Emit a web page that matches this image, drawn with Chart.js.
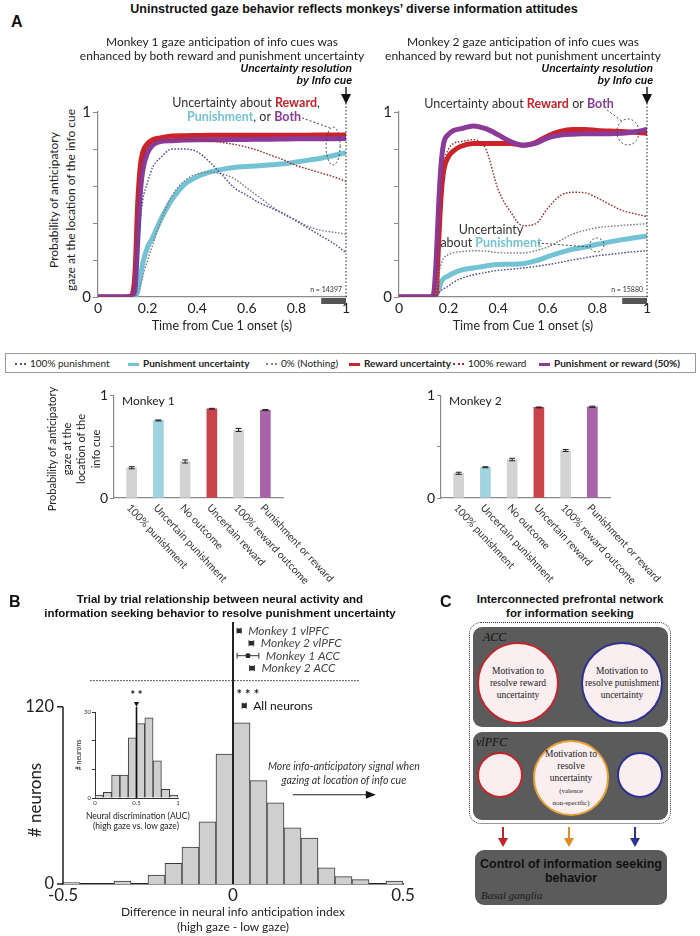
<!DOCTYPE html>
<html>
<head>
<meta charset="utf-8">
<script src="https://cdn.jsdelivr.net/npm/chart.js@4.4.1/dist/chart.umd.min.js"></script>
<style>
  body { margin: 0; background: #fff; }
  #page { position: relative; width: 700px; height: 936px; overflow: hidden; font-family: Lato, "Open Sans", sans-serif; color: #222; }
  .abs { position: absolute; white-space: nowrap; }
  .head { font-family: "Liberation Sans", Arial, sans-serif; font-weight: bold; color: #111; }
  .rot { position: absolute; transform: rotate(-90deg); text-align: center; white-space: nowrap; }
  .leg { position: absolute; top: 0; height: 18px; line-height: 18px; font-size: 10px; white-space: nowrap; }
  .sw { display: inline-block; width: 11px; vertical-align: middle; margin-right: 4px; }
  .pfc { position: absolute; background: #5b5b5b; border-radius: 9px; }
  .circ { position: absolute; border-radius: 50%; background: #fbeef0; border: 2px solid; box-sizing: border-box; display: flex; align-items: center; justify-content: center; text-align: center; white-space: nowrap; font-family: "Liberation Serif", serif; font-size: 9.5px; line-height: 12px; color: #222; }
  .ser { font-family: "Liberation Serif", serif; font-style: italic; }
</style>
</head>
<body>
<div id="page">
  <div class="abs" style="left:80px;top:60px;width:280px;height:260px"><canvas id="gaze1"></canvas></div>
  <div class="abs" style="left:381px;top:60px;width:280px;height:260px"><canvas id="gaze2"></canvas></div>
  <div class="abs" style="left:96px;top:385px;width:260px;height:200px"><canvas id="bars1"></canvas></div>
  <div class="abs" style="left:423px;top:385px;width:260px;height:200px"><canvas id="bars2"></canvas></div>
  <div class="abs" style="left:0px;top:610px;width:440px;height:326px"><canvas id="hist"></canvas></div>
  <div class="abs" style="left:75px;top:688px;width:110px;height:122px"><canvas id="inset"></canvas></div>

  <!-- panel A text -->
  <div class="abs head" style="left:11px;top:13px;font-size:16px">A</div>
  <div class="abs head" style="left:54px;width:600px;top:2px;text-align:center;font-size:12.5px">Uninstructed gaze behavior reflects monkeys’ diverse information attitudes</div>
  <div class="abs" style="left:22px;width:400px;top:35px;text-align:center;font-size:12px;line-height:14px">Monkey 1 gaze anticipation of info cues was<br>enhanced by both reward and punishment uncertainty</div>
  <div class="abs" style="left:323px;width:400px;top:35px;text-align:center;font-size:12px;line-height:14px">Monkey 2 gaze anticipation of info cues was<br>enhanced by reward but not punishment uncertainty</div>
  <div class="rot" style="left:-38px;top:183px;width:200px;height:34px;font-size:12px;line-height:17px">Probability of anticipatory<br>gaze at the location of the info cue</div>
  <div class="abs" style="left:122px;width:200px;top:318px;text-align:center;font-size:12.5px">Time from Cue 1 onset (s)</div>
  <div class="abs" style="left:423px;width:200px;top:318px;text-align:center;font-size:12.5px">Time from Cue 1 onset (s)</div>

  <!-- legend -->
  <div class="abs" style="left:5px;top:353px;width:689px;height:18px;border:1px solid #9a9a9a">
    <div class="leg" style="left:9px"><span class="sw" style="border-top:2px dotted #4a4aa8"></span>100% punishment</div>
    <div class="leg" style="left:122px;font-weight:bold"><span class="sw" style="height:3px;background:#74c3d5"></span>Punishment uncertainty</div>
    <div class="leg" style="left:260px"><span class="sw" style="border-top:2px dotted #888"></span>0% (Nothing)</div>
    <div class="leg" style="left:343px;font-weight:bold"><span class="sw" style="height:3px;background:#cc2229"></span>Reward uncertainty</div>
    <div class="leg" style="left:447px"><span class="sw" style="border-top:2px dotted #a32a2a"></span>100% reward</div>
    <div class="leg" style="left:533px;font-weight:bold"><span class="sw" style="height:3px;background:#8b3a9a"></span>Punishment or reward (50%)</div>
  </div>
  <div class="rot" style="left:5px;top:419px;width:140px;height:60px;font-size:11px;line-height:14.5px">Probability of anticipatory<br>gaze at the<br>location of the<br>info cue</div>

  <!-- panel B text -->
  <div class="abs head" style="left:9px;top:593px;font-size:16px">B</div>
  <div class="abs head" style="left:20px;width:400px;top:592px;text-align:center;font-size:11.5px;line-height:14px">Trial by trial relationship between neural activity and<br>information seeking behavior to resolve punishment uncertainty</div>
  <div class="rot" style="left:-15px;top:790px;width:100px;height:20px;font-size:17px;line-height:20px"># neurons</div>
  <div class="rot" style="left:53px;top:750px;width:50px;height:10px;font-size:7px;line-height:10px"># neurons</div>
  <div class="abs" style="left:86px;width:100px;top:811px;text-align:center;font-size:8.5px;line-height:10px">Neural discrimination (AUC)<br>(high gaze vs. low gaze)</div>
  <div class="abs" style="left:83px;width:300px;top:904px;text-align:center;font-size:12px;line-height:15px">Difference in neural info anticipation index<br>(high gaze - low gaze)</div>

  <!-- panel C -->
  <div class="abs head" style="left:440px;top:593px;font-size:16px">C</div>
  <div class="abs head" style="left:470px;width:200px;top:592px;text-align:center;font-size:11.5px;line-height:14px">Interconnected prefrontal network<br>for information seeking</div>
  <div class="abs" style="left:469px;top:622px;width:202px;height:202px;border:1.3px dotted #333;border-radius:12px;box-sizing:border-box"></div>
  <div class="pfc" style="left:473px;top:627px;width:195px;height:100px"></div>
  <div class="abs ser" style="left:483px;top:630px;font-size:12px;color:#111">ACC</div>
  <div class="circ" style="left:477px;top:642px;width:82px;height:82px;border-color:#c0272d">Motivation to<br>resolve reward<br>uncertainty</div>
  <div class="circ" style="left:581px;top:642px;width:82px;height:82px;border-color:#2e3192">Motivation to<br>resolve punishment<br>uncertainty</div>
  <div class="pfc" style="left:473px;top:732px;width:195px;height:88px"></div>
  <div class="abs ser" style="left:476px;top:735px;font-size:12px;color:#111">vlPFC</div>
  <div class="circ" style="left:477px;top:752px;width:46px;height:46px;border-color:#c0272d"></div>
  <div class="circ" style="left:533px;top:740px;width:76px;height:76px;border-color:#e8a23a"><div>Motivation to<br>resolve<br>uncertainty<br><span style="font-size:7px;line-height:8px">(valence<br>non-specific)</span></div></div>
  <div class="circ" style="left:617px;top:752px;width:46px;height:46px;border-color:#2e3192"></div>
  <svg class="abs" style="left:470px;top:825px" width="200" height="26">
    <g stroke-width="2">
      <line x1="33" y1="2" x2="33" y2="14" stroke="#c0272d"/><polygon points="28,13 38,13 33,22" fill="#c0272d"/>
      <line x1="99" y1="2" x2="99" y2="14" stroke="#e08c20"/><polygon points="94,13 104,13 99,22" fill="#e08c20"/>
      <line x1="165" y1="2" x2="165" y2="14" stroke="#2e3192"/><polygon points="160,13 170,13 165,22" fill="#2e3192"/>
    </g>
  </svg>
  <div class="pfc" style="left:475px;top:850px;width:192px;height:55px"></div>
  <div class="abs head" style="left:475px;width:192px;top:857px;text-align:center;font-size:12.5px;line-height:14px">Control of information seeking<br>behavior</div>
  <div class="abs ser" style="left:481px;top:889px;font-size:11px;color:#1a1a1a">Basal ganglia</div>
</div>

<script>
// ---- panel A: gaze time courses (time from cue 1 onset, s) ----
const timeSec = [0, 0.1, 0.13, 0.14, 0.15, 0.16, 0.17, 0.18, 0.2, 0.22, 0.25, 0.3, 0.35, 0.4, 0.45, 0.5, 0.55, 0.6, 0.65, 0.7, 0.75, 0.8, 0.85, 0.9, 0.95, 1];

// monkey 1
const m1Punish100 = [0, 0, 0, 0.01, 0.05, 0.2, 0.4, 0.52, 0.62, 0.7, 0.75, 0.8, 0.8, 0.785, 0.73, 0.66, 0.59, 0.55, 0.51, 0.48, 0.45, 0.41, 0.37, 0.33, 0.29, 0.24];
const m1PunishUnc = [0, 0, 0, 0, 0.005, 0.03, 0.1, 0.18, 0.27, 0.32, 0.41, 0.53, 0.61, 0.65, 0.675, 0.69, 0.7, 0.705, 0.71, 0.715, 0.72, 0.73, 0.74, 0.75, 0.765, 0.78];
const m1Nothing = [0, 0, 0, 0, 0.005, 0.02, 0.06, 0.11, 0.2, 0.28, 0.4, 0.55, 0.63, 0.665, 0.675, 0.665, 0.64, 0.59, 0.54, 0.49, 0.445, 0.415, 0.38, 0.36, 0.35, 0.34];
const m1RewardUnc = [0, 0, 0.005, 0.02, 0.15, 0.5, 0.7, 0.78, 0.83, 0.85, 0.86, 0.87, 0.872, 0.873, 0.874, 0.874, 0.874, 0.874, 0.875, 0.875, 0.875, 0.875, 0.875, 0.876, 0.876, 0.876];
const m1Reward100 = [0, 0, 0, 0.02, 0.12, 0.45, 0.65, 0.74, 0.81, 0.835, 0.845, 0.85, 0.852, 0.85, 0.845, 0.836, 0.825, 0.81, 0.79, 0.765, 0.74, 0.71, 0.69, 0.67, 0.65, 0.625];
const m1Both = [0, 0, 0, 0.01, 0.05, 0.3, 0.55, 0.68, 0.78, 0.82, 0.84, 0.845, 0.848, 0.85, 0.85, 0.85, 0.852, 0.852, 0.853, 0.853, 0.854, 0.855, 0.855, 0.856, 0.856, 0.857];

// monkey 2
const m2Punish100 = [0, 0, 0, 0, 0.005, 0.02, 0.035, 0.045, 0.06, 0.08, 0.1, 0.12, 0.133, 0.144, 0.15, 0.157, 0.165, 0.175, 0.187, 0.2, 0.212, 0.223, 0.23, 0.238, 0.245, 0.25];
const m2PunishUnc = [0, 0, 0, 0, 0.01, 0.04, 0.08, 0.1, 0.115, 0.13, 0.145, 0.157, 0.168, 0.176, 0.177, 0.18, 0.195, 0.218, 0.24, 0.258, 0.27, 0.285, 0.298, 0.31, 0.32, 0.33];
const m2Nothing = [0, 0, 0, 0, 0.02, 0.12, 0.18, 0.21, 0.23, 0.24, 0.245, 0.25, 0.248, 0.24, 0.238, 0.238, 0.25, 0.27, 0.305, 0.34, 0.36, 0.375, 0.382, 0.387, 0.392, 0.396];
const m2RewardUnc = [0, 0, 0, 0, 0.02, 0.3, 0.55, 0.68, 0.76, 0.79, 0.815, 0.83, 0.83, 0.83, 0.83, 0.82, 0.835, 0.87, 0.895, 0.905, 0.905, 0.9, 0.897, 0.895, 0.89, 0.885];
const m2Reward100 = [0, 0, 0, 0.01, 0.1, 0.4, 0.6, 0.72, 0.8, 0.83, 0.84, 0.85, 0.8, 0.58, 0.46, 0.385, 0.395, 0.48, 0.548, 0.566, 0.563, 0.535, 0.5, 0.468, 0.45, 0.435];
const m2Both = [0, 0, 0, 0.02, 0.2, 0.5, 0.72, 0.83, 0.88, 0.9, 0.91, 0.925, 0.91, 0.877, 0.84, 0.82, 0.83, 0.86, 0.875, 0.88, 0.882, 0.883, 0.883, 0.885, 0.893, 0.905];

// ---- bar summaries ----
const barCats = ['100% punishment', 'Uncertain punishment', 'No outcome', 'Uncertain reward', '100% reward outcome', 'Punishment or reward'];
const m1BarVals = [0.295, 0.756, 0.356, 0.87, 0.663, 0.857];
const m1BarErr = [0.01, 0.005, 0.015, 0.004, 0.015, 0.006];
const m2BarVals = [0.241, 0.3, 0.375, 0.883, 0.463, 0.889];
const m2BarErr = [0.01, 0.005, 0.012, 0.004, 0.01, 0.006];

// ---- panel B: histogram of gaze index difference (bin centres, width 0.05) ----
const diffBins = [-0.475, -0.425, -0.375, -0.325, -0.275, -0.225, -0.175, -0.125, -0.075, -0.025, 0.025, 0.075, 0.125, 0.175, 0.225, 0.275, 0.325, 0.375, 0.425, 0.475];
const diffCounts = [1, 0, 0, 2, 0, 6, 14, 25, 42, 88, 109, 70, 55, 38, 31, 11, 5, 3, 0, 2];
const diffTicksY = [0, 120];
// inset: AUC histogram (bin width 0.1)
const aucBins = [0.05, 0.15, 0.25, 0.35, 0.45, 0.55, 0.65, 0.75, 0.85, 0.95];
const aucCounts = [1, 2, 8, 8, 21, 26, 28, 13, 3, 1];
// population means with confidence range
const regionNames = ['Monkey 1 vlPFC', 'Monkey 2 vlPFC', 'Monkey 1 ACC', 'Monkey 2 ACC', 'All neurons'];
const regionMean = [0.018, 0.054, 0.044, 0.056, 0.033];
const regionLo = [0.012, 0.047, 0.012, 0.049, 0.027];
const regionHi = [0.024, 0.061, 0.076, 0.063, 0.039];

const RED = '#cc2229', PURPLE = '#8b3a9a', CYAN = '#74c3d5';
const BLUE_DOT = '#4a4aa8', GREY_DOT = '#7d7d7d', RED_DOT = '#a32a2a';
const FONT = 'Lato, "Open Sans", sans-serif';

Chart.defaults.font.family = FONT;
Chart.defaults.color = '#222';

const pts = (xs, ys) => ys.map((v, i) => ({ x: xs[i], y: v }));

// writes runs of coloured text, centred on cx
function textRuns(ctx, runs, cx, cy) {
  let w = 0;
  runs.forEach(r => { ctx.font = (r[2] ? 'bold ' : '') + '12.5px ' + FONT; w += ctx.measureText(r[0]).width; });
  let xx = cx - w / 2;
  ctx.textAlign = 'left';
  runs.forEach(r => {
    ctx.font = (r[2] ? 'bold ' : '') + '12.5px ' + FONT;
    ctx.fillStyle = r[1];
    ctx.fillText(r[0], xx, cy);
    xx += ctx.measureText(r[0]).width;
  });
}

function gazeNotes(cfg) {
  return {
    id: 'gazeNotes',
    afterDraw(chart) {
      const { ctx, chartArea: a, scales: { x, y } } = chart;
      ctx.save();
      const xe = x.getPixelForValue(1);
      // cue 2 line + arrow
      ctx.strokeStyle = '#222';
      ctx.lineWidth = 1;
      ctx.setLineDash([1.5, 2]);
      ctx.beginPath(); ctx.moveTo(xe, a.top - 9); ctx.lineTo(xe, a.bottom); ctx.stroke();
      ctx.setLineDash([]);
      ctx.lineWidth = 1.5;
      ctx.beginPath(); ctx.moveTo(xe, a.top - 25); ctx.lineTo(xe, a.top - 16); ctx.stroke();
      ctx.fillStyle = '#111';
      ctx.beginPath(); ctx.moveTo(xe - 5, a.top - 18); ctx.lineTo(xe + 5, a.top - 18); ctx.lineTo(xe, a.top - 8); ctx.closePath(); ctx.fill();
      ctx.font = 'bold italic 10.5px "Liberation Sans", Arial, sans-serif';
      ctx.textAlign = 'right';
      ctx.textBaseline = 'middle';
      ctx.fillText('Uncertainty resolution', xe + 6, a.top - 43);
      ctx.fillText('by Info cue', xe + 6, a.top - 31);
      // analysis window
      const x9 = x.getPixelForValue(0.9);
      ctx.fillStyle = '#555';
      ctx.fillRect(x9, a.bottom + 1, xe - x9, 6);
      ctx.font = '7px ' + FONT;
      ctx.fillStyle = '#333';
      ctx.fillText(cfg.n, xe - 4, a.bottom - 7);
      // labels
      cfg.lines.forEach(l => textRuns(ctx, l.runs, x.getPixelForValue(l.x), y.getPixelForValue(l.y)));
      ctx.strokeStyle = '#444';
      ctx.lineWidth = 1;
      ctx.setLineDash([2, 2]);
      cfg.leaders.forEach(s => {
        ctx.beginPath();
        ctx.moveTo(x.getPixelForValue(s[0]), y.getPixelForValue(s[1]));
        ctx.lineTo(x.getPixelForValue(s[2]), y.getPixelForValue(s[3]));
        ctx.stroke();
      });
      cfg.rings.forEach(r => {
        ctx.beginPath();
        ctx.ellipse(x.getPixelForValue(r[0]), y.getPixelForValue(r[1]), r[2], r[3], 0, 0, Math.PI * 2);
        ctx.stroke();
      });
      ctx.restore();
    }
  };
}

function gazeChart(id, s, notes) {
  const thin = (d, c) => ({ data: pts(timeSec, d), borderColor: c, borderWidth: 1.4, borderDash: [1.6, 1.6] });
  const thick = (d, c) => ({ data: pts(timeSec, d), borderColor: c, borderWidth: 5 });
  return new Chart(document.getElementById(id), {
    type: 'line',
    data: {
      // first dataset is painted last (on top)
      datasets: [
        thin(s.r100, RED_DOT), thin(s.p100, BLUE_DOT), thin(s.nothing, GREY_DOT),
        thick(s.both, PURPLE), thick(s.rU, RED), thick(s.pU, CYAN)
      ]
    },
    options: {
      responsive: true, maintainAspectRatio: false, animation: false,
      layout: { padding: { top: 52, right: 14, left: 0, bottom: 0 } },
      elements: { point: { radius: 0 }, line: { cubicInterpolationMode: 'monotone', borderCapStyle: 'butt' } },
      plugins: { legend: { display: false }, tooltip: { enabled: false } },
      scales: {
        x: {
          type: 'linear', min: 0, max: 1,
          ticks: { stepSize: 0.2, font: { size: 14 }, padding: 3, callback: v => String(+v.toFixed(1)) },
          grid: { display: false, drawTicks: false },
          border: { color: '#8a8a8a', width: 1.2 },
          afterFit: sc => { sc.height = 23; }
        },
        y: {
          min: 0, max: 1,
          ticks: { stepSize: 0.2, font: { size: 15 }, padding: 2, callback: v => (v === 0 || v === 1) ? String(v) : '' },
          grid: { drawOnChartArea: false, drawTicks: true, tickLength: 5, color: '#8a8a8a' },
          border: { color: '#8a8a8a', width: 1.2 },
          afterFit: sc => { sc.width = 18; }
        }
      }
    },
    plugins: [gazeNotes(notes)]
  });
}

gazeChart('gaze1',
  { p100: m1Punish100, pU: m1PunishUnc, nothing: m1Nothing, rU: m1RewardUnc, r100: m1Reward100, both: m1Both },
  {
    n: 'n = 14397',
    lines: [
      { x: 0.597, y: 1.049, runs: [['Uncertainty about ', '#333'], ['Reward', RED, true], [',', '#333']] },
      { x: 0.589, y: 0.973, runs: [['Punishment', CYAN, true], [', or ', '#333'], ['Both', PURPLE, true]] }
    ],
    leaders: [[0.823, 0.968, 0.935, 0.914]],
    rings: [[0.948, 0.816, 7, 19]]
  });

gazeChart('gaze2',
  { p100: m2Punish100, pU: m2PunishUnc, nothing: m2Nothing, rU: m2RewardUnc, r100: m2Reward100, both: m2Both },
  {
    n: 'n = 15880',
    lines: [
      { x: 0.484, y: 1.043, runs: [['Uncertainty about ', '#333'], ['Reward', RED, true], [' or ', '#333'], ['Both', PURPLE, true]] },
      { x: 0.371, y: 0.362, runs: [['Uncertainty', '#333']] },
      { x: 0.371, y: 0.292, runs: [['about ', '#333'], ['Punishment', CYAN, true]] }
    ],
    leaders: [[0.839, 1.011, 0.903, 0.946], [0.56, 0.292, 0.77, 0.27]],
    rings: [[0.923, 0.892, 11, 13], [0.798, 0.281, 7, 7]]
  });

// ---- bar charts ----
function barChart(id, vals, errs, title) {
  const notes = {
    id: 'barNotes',
    afterDatasetsDraw(chart) {
      const { ctx, chartArea: a, scales: { x, y } } = chart;
      ctx.save();
      ctx.strokeStyle = '#222';
      ctx.lineWidth = 1;
      vals.forEach((v, i) => {
        const px = x.getPixelForValue(i);
        const hi = y.getPixelForValue(v + errs[i]), lo = y.getPixelForValue(v - errs[i]);
        ctx.beginPath();
        ctx.moveTo(px, hi); ctx.lineTo(px, lo);
        ctx.moveTo(px - 3, hi); ctx.lineTo(px + 3, hi);
        ctx.moveTo(px - 3, lo); ctx.lineTo(px + 3, lo);
        ctx.stroke();
      });
      ctx.fillStyle = '#333';
      ctx.font = '10.5px ' + FONT;
      ctx.textAlign = 'left';
      ctx.textBaseline = 'middle';
      barCats.forEach((c, i) => {
        ctx.save();
        ctx.translate(x.getPixelForValue(i) - 3, a.bottom + 8);
        ctx.rotate(47 * Math.PI / 180);
        ctx.fillText(c, 0, 0);
        ctx.restore();
      });
      ctx.fillStyle = '#222';
      ctx.font = '12px ' + FONT;
      ctx.fillText(title, a.left + 8, y.getPixelForValue(0.94));
      ctx.restore();
    }
  };
  return new Chart(document.getElementById(id), {
    type: 'bar',
    data: {
      datasets: [{
        data: pts([0, 1, 2, 3, 4, 5], vals),
        backgroundColor: ['#d3d3d3', '#9fd3e0', '#d3d3d3', '#c8444a', '#d3d3d3', '#a963a8'],
        barThickness: 10
      }]
    },
    options: {
      responsive: true, maintainAspectRatio: false, animation: false,
      layout: { padding: { top: 8, right: 73, left: 0, bottom: 0 } },
      plugins: { legend: { display: false }, tooltip: { enabled: false } },
      scales: {
        x: {
          type: 'linear', min: -0.66, max: 5.66, offset: false,
          ticks: { display: false },
          grid: { display: false, drawTicks: false, offset: false },
          border: { color: '#8a8a8a', width: 1.2 },
          afterFit: sc => { sc.height = 87; }
        },
        y: {
          min: 0, max: 1,
          ticks: { stepSize: 0.5, font: { size: 14 }, padding: 2, callback: v => (v === 0 || v === 1) ? String(v) : '' },
          grid: { drawOnChartArea: false, drawTicks: true, tickLength: 4, color: '#8a8a8a' },
          border: { color: '#8a8a8a', width: 1.2 },
          afterFit: sc => { sc.width = 18; }
        }
      }
    },
    plugins: [notes]
  });
}
barChart('bars1', m1BarVals, m1BarErr, 'Monkey 1');
barChart('bars2', m2BarVals, m2BarErr, 'Monkey 2');

// ---- panel B histogram ----
const regionRow = [6, 5, 4, 3, 0];
const histNotes = {
  id: 'histNotes',
  afterDatasetsDraw(chart) {
    const { ctx, chartArea: a, scales: { x, y, rows } } = chart;
    ctx.save();
    ctx.strokeStyle = '#222';
    ctx.lineWidth = 1.5;
    // y axis only up to the top tick
    const y0 = y.getPixelForValue(diffTicksY[0]), yTop = y.getPixelForValue(diffTicksY[1]);
    ctx.beginPath();
    ctx.moveTo(a.left, y0); ctx.lineTo(a.left, yTop);
    ctx.moveTo(a.left - 6, y0); ctx.lineTo(a.left, y0);
    ctx.moveTo(a.left - 6, yTop); ctx.lineTo(a.left, yTop);
    ctx.stroke();
    ctx.fillStyle = '#222';
    ctx.font = '16.5px ' + FONT;
    ctx.textAlign = 'right';
    ctx.textBaseline = 'middle';
    diffTicksY.forEach(t => ctx.fillText(String(t), a.left - 9, y.getPixelForValue(t)));
    // zero line
    const x0 = x.getPixelForValue(0);
    ctx.lineWidth = 2;
    ctx.beginPath(); ctx.moveTo(x0, y0); ctx.lineTo(x0, a.top + 4); ctx.stroke();
    // separator
    ctx.lineWidth = 1;
    ctx.setLineDash([1.5, 1.5]);
    ctx.beginPath();
    ctx.moveTo(x.getPixelForValue(-0.42), rows.getPixelForValue(2));
    ctx.lineTo(x.getPixelForValue(0.37), rows.getPixelForValue(2));
    ctx.stroke();
    ctx.setLineDash([]);
    // whiskers + labels
    ctx.textAlign = 'left';
    regionNames.forEach((n, i) => {
      const py = rows.getPixelForValue(regionRow[i]);
      const l = x.getPixelForValue(regionLo[i]), h = x.getPixelForValue(regionHi[i]);
      ctx.strokeStyle = '#333';
      ctx.lineWidth = 1;
      ctx.beginPath();
      ctx.moveTo(l, py); ctx.lineTo(h, py);
      ctx.moveTo(l, py - 3); ctx.lineTo(l, py + 3);
      ctx.moveTo(h, py - 3); ctx.lineTo(h, py + 3);
      ctx.stroke();
      const last = i === regionNames.length - 1;
      ctx.fillStyle = last ? '#111' : '#444';
      ctx.font = (last ? '' : 'italic ') + '12px ' + FONT;
      ctx.fillText(n, h + 7, py);
    });
    ctx.fillStyle = '#222';
    ctx.font = 'bold 13px ' + FONT;
    ctx.fillText('* * *', x.getPixelForValue(0.01), rows.getPixelForValue(1) + 2);
    // direction note
    ctx.fillStyle = '#333';
    ctx.font = 'italic 10.5px ' + FONT;
    ctx.textAlign = 'center';
    ctx.fillText('More info-anticipatory signal when', x.getPixelForValue(0.326), y.getPixelForValue(79.3));
    ctx.fillText('gazing at location of info cue', x.getPixelForValue(0.326), y.getPixelForValue(69.8));
    const ay = y.getPixelForValue(60.4), ax1 = x.getPixelForValue(0.176), ax2 = x.getPixelForValue(0.42);
    ctx.strokeStyle = '#222';
    ctx.lineWidth = 1.2;
    ctx.beginPath(); ctx.moveTo(ax1, ay); ctx.lineTo(ax2 - 6, ay); ctx.stroke();
    ctx.fillStyle = '#111';
    ctx.beginPath(); ctx.moveTo(ax2, ay); ctx.lineTo(ax2 - 10, ay - 4); ctx.lineTo(ax2 - 10, ay + 4); ctx.closePath(); ctx.fill();
    ctx.restore();
  }
};

new Chart(document.getElementById('hist'), {
  type: 'bar',
  data: {
    datasets: [
      {
        type: 'scatter', yAxisID: 'rows', clip: false,
        data: pts(regionMean, regionRow),
        pointStyle: 'rect', pointRadius: 2.5, backgroundColor: '#222', borderColor: '#222'
      },
      {
        data: pts(diffBins, diffCounts),
        backgroundColor: '#cfcfcf', borderColor: '#3a3a3a', borderWidth: 1,
        barPercentage: 1, categoryPercentage: 1, borderSkipped: 'bottom'
      }
    ]
  },
  options: {
    responsive: true, maintainAspectRatio: false, animation: false,
    layout: { padding: { top: 8, right: 37, left: 0, bottom: 0 } },
    plugins: { legend: { display: false }, tooltip: { enabled: false } },
    scales: {
      x: {
        type: 'linear', min: -0.5, max: 0.5, offset: false,
        ticks: { stepSize: 0.5, font: { size: 17 }, padding: 1, color: '#222', callback: v => String(+v.toFixed(1)) },
        grid: { display: false, drawTicks: false, offset: false },
        border: { color: '#222', width: 1.5 },
        afterFit: sc => { sc.height = 52; }
      },
      y: {
        min: 0, max: 180,
        ticks: { display: false },
        grid: { display: false, drawTicks: false },
        border: { display: false },
        afterFit: sc => { sc.width = 63; }
      },
      rows: { type: 'linear', axis: 'y', position: 'left', display: false, min: -14.29, max: 7.02 }
    }
  },
  plugins: [histNotes]
});

// inset
const insetNotes = {
  id: 'insetNotes',
  afterDatasetsDraw(chart) {
    const { ctx, chartArea: a, scales: { x, y } } = chart;
    const xm = x.getPixelForValue(0.5);
    ctx.save();
    ctx.strokeStyle = '#111';
    ctx.lineWidth = 1.6;
    ctx.beginPath(); ctx.moveTo(xm, y.getPixelForValue(0)); ctx.lineTo(xm, a.top - 5); ctx.stroke();
    ctx.fillStyle = '#111';
    ctx.beginPath(); ctx.moveTo(xm - 2.5, a.top - 10); ctx.lineTo(xm + 2.5, a.top - 10); ctx.lineTo(xm, a.top - 5); ctx.closePath(); ctx.fill();
    ctx.font = 'bold 11px ' + FONT;
    ctx.textAlign = 'center';
    ctx.textBaseline = 'middle';
    ctx.fillText('* *', xm, a.top - 17);
    ctx.restore();
  }
};
new Chart(document.getElementById('inset'), {
  type: 'bar',
  data: {
    datasets: [{
      data: pts(aucBins, aucCounts),
      backgroundColor: '#cfcfcf', borderColor: '#3a3a3a', borderWidth: 1,
      barPercentage: 1, categoryPercentage: 1, borderSkipped: 'bottom'
    }]
  },
  options: {
    responsive: true, maintainAspectRatio: false, animation: false,
    layout: { padding: { top: 24, right: 7, left: 0, bottom: 0 } },
    plugins: { legend: { display: false }, tooltip: { enabled: false } },
    scales: {
      x: {
        type: 'linear', min: 0, max: 1, offset: false,
        ticks: { stepSize: 0.5, font: { size: 6 }, padding: 1, color: '#333', callback: v => String(+v.toFixed(1)) },
        grid: { display: false, drawTicks: false, offset: false },
        border: { color: '#333', width: 1 },
        afterFit: sc => { sc.height = 12; }
      },
      y: {
        min: 0, max: 30,
        ticks: { stepSize: 10, font: { size: 6 }, padding: 1, color: '#333', callback: v => (v === 0 || v === 30) ? String(v) : '' },
        grid: { drawOnChartArea: false, drawTicks: true, tickLength: 3, color: '#333' },
        border: { color: '#333', width: 1 },
        afterFit: sc => { sc.width = 20; }
      }
    }
  },
  plugins: [insetNotes]
});
</script>
</body>
</html>
